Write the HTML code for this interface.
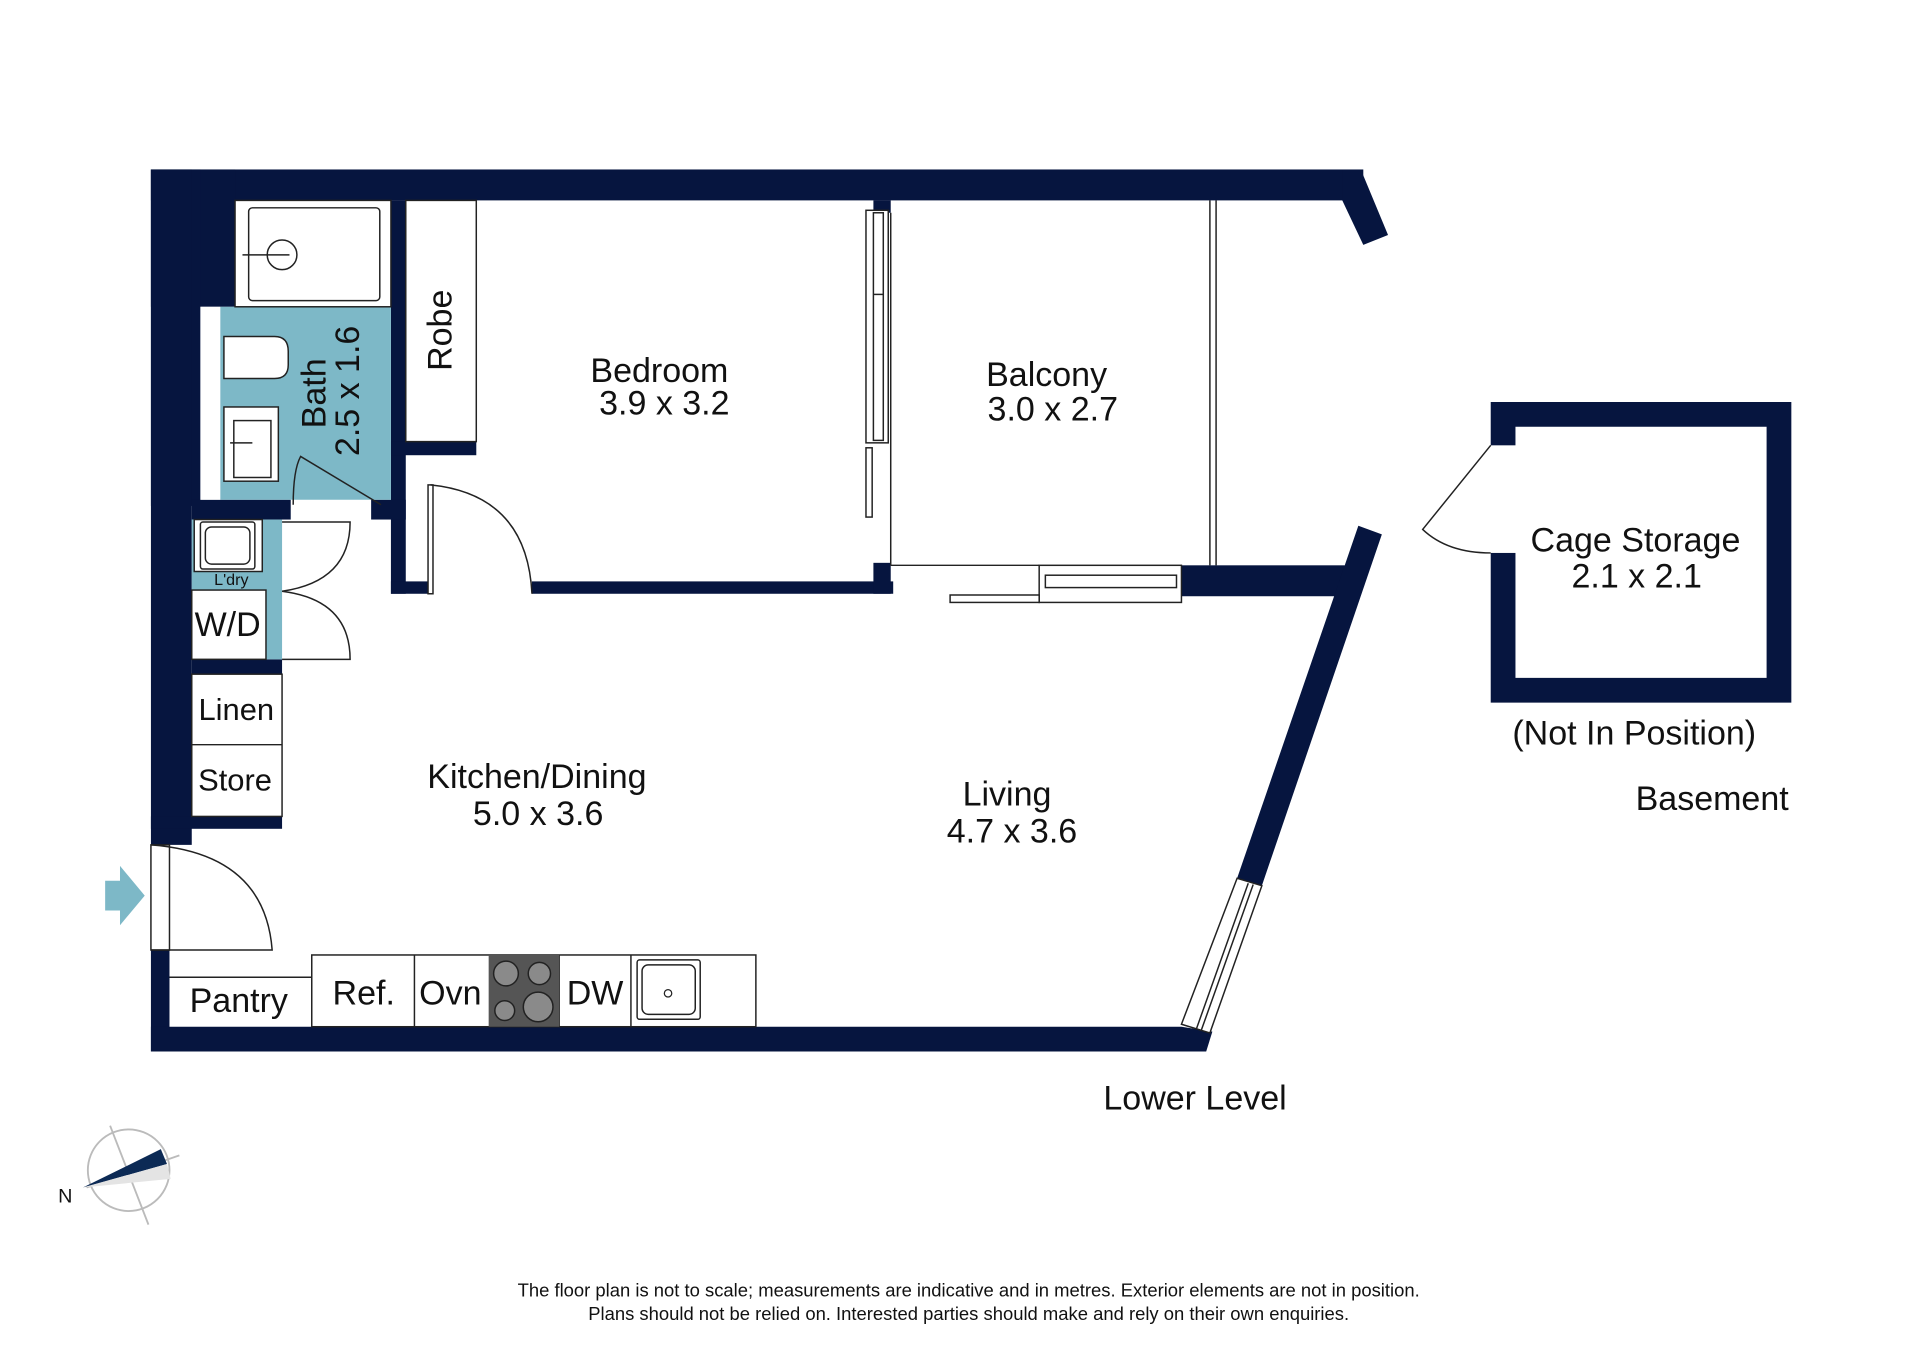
<!DOCTYPE html>
<html><head><meta charset="utf-8"><style>
html,body{margin:0;padding:0;background:#fff;}
svg{display:block;}
text{font-family:"Liberation Sans",Arial,sans-serif;fill:#111;}
</style></head><body>
<svg width="1920" height="1357" viewBox="0 0 1552 1097" preserveAspectRatio="none" xmlns="http://www.w3.org/2000/svg">
<rect width="1552" height="1097" fill="#fff"/>
<g fill="#06153f">
<rect x="122" y="137" width="980" height="25"/>
<polygon points="1085,137 1100,137 1122,190 1102,198 1085,162"/>
<rect x="122" y="137" width="68" height="111"/>
<rect x="122" y="137" width="40" height="272"/>
<rect x="122" y="137" width="33" height="546"/>
<rect x="122" y="768" width="15" height="82"/>
<rect x="122" y="683" width="15" height="2"/>
<polygon points="122,830 955,830 980,834 975,850 122,850"/>
<rect x="316" y="162" width="12" height="318"/>
<rect x="316" y="357" width="69" height="11"/>
<rect x="316" y="470" width="32" height="10"/>
<rect x="430" y="470" width="292" height="10"/>
<rect x="706" y="162" width="14" height="10"/>
<rect x="706" y="455" width="14" height="25"/>
<rect x="155" y="404" width="80" height="16"/>
<rect x="300" y="404" width="28" height="16"/>
<rect x="155" y="533" width="73" height="12"/>
<rect x="122" y="660" width="106" height="10"/>
<rect x="955" y="457" width="132" height="25"/>
<polygon points="1098,425 1117,432 1020,716 1000,710"/>
<path d="M1205,325 H1448 V568 H1205 Z M1225,345 V548 H1428 V345 Z" fill-rule="evenodd"/>
</g>
<rect x="1204" y="360" width="22" height="87" fill="#fff"/>
<rect x="178" y="248" width="138" height="156" fill="#7db8c7"/>
<rect x="162" y="248" width="16" height="156" fill="#fff"/>
<rect x="155" y="420" width="73" height="113" fill="#7db8c7"/>
<g fill="none" stroke="#222" stroke-width="1.2">
<rect x="190" y="162" width="126" height="86" fill="#fff"/>
<rect x="201" y="168" width="106" height="75" rx="3"/>
<circle cx="228" cy="206" r="12"/>
<line x1="196" y1="206" x2="234" y2="206"/>
<path d="M181,272 H222 Q233,272 233,284 V295 Q233,306 222,306 H181 Z" fill="#fff"/>
<rect x="181" y="329" width="44" height="60" fill="#fff"/>
<rect x="189" y="340" width="30" height="46"/>
<line x1="186" y1="358" x2="204" y2="358"/>
<path d="M237,408 Q237,380 243,369 L308,408"/>
<rect x="157" y="420" width="55" height="42" fill="#fff"/>
<rect x="162" y="422" width="44" height="38" rx="2"/>
<rect x="166" y="426" width="36" height="30" rx="5"/>
<rect x="155" y="477" width="60" height="56" fill="#fff"/>
<path d="M228,422 H283 Q283,470 228,478"/>
<path d="M228,533 H283 Q283,485 228,478"/>
<rect x="155" y="545" width="73" height="115" fill="#fff"/>
<line x1="155" y1="602" x2="228" y2="602"/>
<rect x="328" y="162" width="57" height="195" fill="#fff"/>
<rect x="346" y="392" width="4" height="88" fill="#fff"/>
<path d="M348,392 Q426,400 430,480"/>
<rect x="122" y="683" width="15" height="85" fill="#fff"/>
<path d="M122,683 Q214,690 220,768 H122"/>
<rect x="700" y="170" width="18" height="188" fill="#fff"/>
<rect x="706" y="172" width="8" height="184"/>
<line x1="706" y1="238" x2="714" y2="238"/>
<rect x="700" y="362" width="5" height="56" fill="#fff"/>
<line x1="720" y1="172" x2="720" y2="457"/>
<line x1="978" y1="162" x2="978" y2="457"/>
<line x1="983" y1="162" x2="983" y2="457"/>
<line x1="720" y1="457" x2="840" y2="457"/>
<rect x="840" y="457" width="115" height="30" fill="#fff"/>
<rect x="845" y="465" width="106" height="10"/>
<rect x="768" y="481" width="72" height="6" fill="#fff"/>
<polygon points="1000,710 1020,716 978,835 955,828" fill="#fff"/>
<line x1="1009" y1="714" x2="967" y2="832"/>
<line x1="1013" y1="715" x2="971" y2="833"/>
<line x1="137" y1="790" x2="252" y2="790"/>
<rect x="252" y="772" width="359" height="58" fill="#fff"/>
<line x1="335" y1="772" x2="335" y2="830"/>
<line x1="452" y1="772" x2="452" y2="830"/>
<line x1="510" y1="772" x2="510" y2="830"/>
<rect x="515" y="776" width="51" height="48" rx="2"/>
<rect x="519" y="780" width="43" height="40" rx="5"/>
<path d="M1205,360 L1150,428 Q1170,447 1205,447"/>
</g>
<rect x="395" y="772" width="57" height="58" fill="#555"/>
<g fill="#8a8a8a" stroke="#222" stroke-width="1.2">
<circle cx="409" cy="787" r="10"/><circle cx="436" cy="787" r="9"/>
<circle cx="408" cy="817" r="8"/><circle cx="435" cy="814" r="12"/>
</g>
<circle cx="540" cy="803" r="3" fill="none" stroke="#222"/>
<polygon points="85,712 97,712 97,700 117,724 97,748 97,736 85,736" fill="#7db8c7"/>
<g stroke="#bbb" stroke-width="1.5" fill="none">
<circle cx="104" cy="946" r="33"/>
<line x1="89" y1="910" x2="120" y2="990"/>
<line x1="70" y1="960" x2="145" y2="934"/>
</g>
<polygon points="67,960 130,929 135,941" fill="#0c2a55"/>
<polygon points="67,960 135,941 138,953" fill="#e4e4e4"/>
<text x="47" y="972" font-size="16" fill="#0c2a55">N</text>
<g font-size="27.5" text-anchor="middle">
<text x="533" y="309">Bedroom</text>
<text x="537" y="335">3.9 x 3.2</text>
<text x="846" y="312">Balcony</text>
<text x="851" y="340">3.0 x 2.7</text>
<text x="434" y="637">Kitchen/Dining</text>
<text x="435" y="667">5.0 x 3.6</text>
<text x="814" y="651">Living</text>
<text x="818" y="681">4.7 x 3.6</text>
<text x="1322" y="446">Cage Storage</text>
<text x="1323" y="475">2.1 x 2.1</text>
<text x="1321" y="602">(Not In Position)</text>
<text x="1384" y="655">Basement</text>
<text x="966" y="897">Lower Level</text>
<text x="193" y="818">Pantry</text>
<text x="294" y="812">Ref.</text>
<text x="364" y="812">Ovn</text>
<text x="481" y="812">DW</text>
<text x="184" y="514">W/D</text>
<text x="191" y="582" font-size="25">Linen</text>
<text x="190" y="639" font-size="25">Store</text>
<text x="187" y="473" font-size="13" fill="#124">L'dry</text>
<text transform="translate(365,267) rotate(-90)">Robe</text>
<text transform="translate(263,318) rotate(-90)">Bath</text>
<text transform="translate(290,316) rotate(-90)">2.5 x 1.6</text>
<text x="783" y="1048" font-size="14.9">The floor plan is not to scale; measurements are indicative and in metres. Exterior elements are not in position.</text>
<text x="783" y="1067" font-size="14.9">Plans should not be relied on. Interested parties should make and rely on their own enquiries.</text>
</g>
</svg>
</body></html>
